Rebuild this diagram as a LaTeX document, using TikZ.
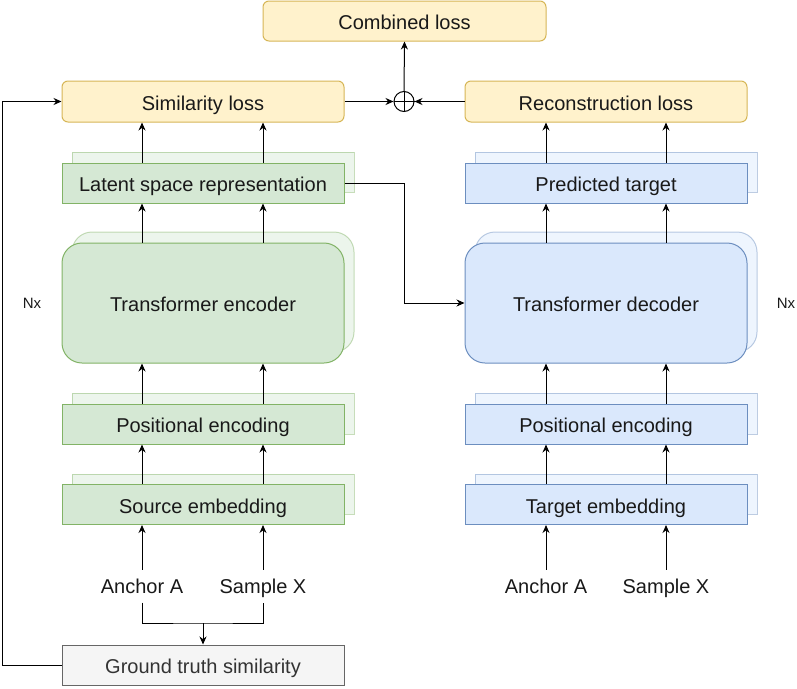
\documentclass[tikz,border=0pt]{standalone}
\usepackage{fontspec}
\setmainfont{Liberation Sans}
\usetikzlibrary{arrows.meta,calc}
\definecolor{yfill}{HTML}{FFF2CC}
\definecolor{ydraw}{HTML}{D6B656}
\definecolor{gfill}{HTML}{D5E8D4}
\definecolor{gdraw}{HTML}{82B366}
\definecolor{bfill}{HTML}{DAE8FC}
\definecolor{bdraw}{HTML}{6C8EBF}
\definecolor{sfill}{HTML}{F5F5F5}
\definecolor{sdraw}{HTML}{666666}
\definecolor{stext}{HTML}{333333}
\tikzset{
  base/.style={inner sep=0pt, line width=1pt, font=\fontsize{20}{24}\selectfont, text=black!90, text height=21pt, text depth=4pt},
  lossbox/.style={base, draw=ydraw, fill=yfill, rounded corners=6pt, minimum width=282pt, minimum height=41pt},
  gbox/.style={base, draw=gdraw, fill=gfill, minimum width=282pt, minimum height=40pt},
  bbox/.style={base, draw=bdraw, fill=bfill, minimum width=282pt, minimum height=40pt},
  bigg/.style={gbox, rounded corners=20pt, minimum height=120pt},
  bigb/.style={bbox, rounded corners=20pt, minimum height=120pt},
  gshadow/.style={draw=gdraw, fill=gfill, line width=1pt, opacity=0.45},
  bshadow/.style={draw=bdraw, fill=bfill, line width=1pt, opacity=0.45},
  lbl/.style={base, anchor=base, text height=19pt, text depth=5pt, inner xsep=2pt, inner ysep=4pt},
  nxlbl/.style={base, font=\fontsize{15}{18}\selectfont, text height=10.5pt, text depth=0pt},
  arr/.style={line width=1pt, -{Stealth[length=8pt,width=7pt]}},
  ln/.style={line width=1pt}
}
\begin{document}
\begin{tikzpicture}[x=1pt,y=-1pt]
\useasboundingbox (0,0) rectangle (797,688);
% shadows
\draw[gshadow] (72,152) rectangle (354,192);
\draw[gshadow, rounded corners=20pt] (72,232) rectangle (354,352);
\draw[gshadow] (72,393) rectangle (354,434);
\draw[gshadow] (72,474) rectangle (354,514);
\draw[bshadow] (475,152) rectangle (757,192);
\draw[bshadow, rounded corners=20pt] (475,232) rectangle (757,352);
\draw[bshadow] (475,393) rectangle (757,434);
\draw[bshadow] (475,474) rectangle (757,514);
% nodes
\node[lossbox, minimum width=283pt, minimum height=40pt] (comb) at (404.5,21) {Combined loss};
\node[lossbox] (sim) at (203,101.5) {Similarity loss};
\node[lossbox] (rec) at (606,101.5) {Reconstruction loss};
\node[draw, circle, line width=1pt, minimum size=20pt, inner sep=0pt] (plus) at (404,101.5) {};
\draw[ln] (plus.north) -- (plus.south) (plus.west) -- (plus.east);
\node[gbox] (lat) at (203,183) {Latent space representation};
\node[bbox] (pred) at (606,183) {Predicted target};
\node[bigg] (enc) at (203,303) {Transformer encoder};
\node[bigb] (dec) at (606,303) {Transformer decoder};
\node[gbox] (pe1) at (203,424) {Positional encoding};
\node[bbox] (pe2) at (606,424) {Positional encoding};
\node[gbox] (se) at (203,504.5) {Source embedding};
\node[bbox] (te) at (606,504.5) {Target embedding};
\node[lbl] (a1) at (142,593) {Anchor A};
\node[lbl] (x1) at (263,593) {Sample X};
\node[lbl] (a2) at (546,593) {Anchor A};
\node[lbl] (x2) at (666,593) {Sample X};
\node[base, draw=sdraw, fill=sfill, text=stext, minimum width=282pt, minimum height=40pt] (gt) at (203,665) {Ground truth similarity};
\node[nxlbl] (nx1) at (32,303) {Nx};
\node[nxlbl] (nx2) at (786,303) {Nx};
\coordinate (m) at (203,623);
\coordinate (fb) at (2,665);
\coordinate (lk) at (404,183);
% connectors
\foreach \s in {a1,x1}{
  \draw[arr] (\s.north) -- (\s.north |- se.south);
  \draw[arr] (se.north -| \s) -- (pe1.south -| \s);
  \draw[arr] (pe1.north -| \s) -- (enc.south -| \s);
  \draw[arr] (enc.north -| \s) -- (lat.south -| \s);
  \draw[arr] (lat.north -| \s) -- (sim.south -| \s);
}
\foreach \s in {a2,x2}{
  \draw[arr] (\s.north) -- (\s.north |- te.south);
  \draw[arr] (te.north -| \s) -- (pe2.south -| \s);
  \draw[arr] (pe2.north -| \s) -- (dec.south -| \s);
  \draw[arr] (dec.north -| \s) -- (pred.south -| \s);
  \draw[arr] (pred.north -| \s) -- (rec.south -| \s);
}
\draw[ln] (a1.south) |- (m) -| (x1.south);
\draw[arr] (m) -- (gt.north);
\draw[arr] (gt.west) -- (fb) |- (sim.west);
\draw[arr] (lat.east) -- (lk) |- (dec.west);
\draw[arr] (sim.east) -- (plus.west);
\draw[arr] (rec.west) -- (plus.east);
\draw[arr] (plus.north) -- (comb.south);
\end{tikzpicture}
\end{document}
